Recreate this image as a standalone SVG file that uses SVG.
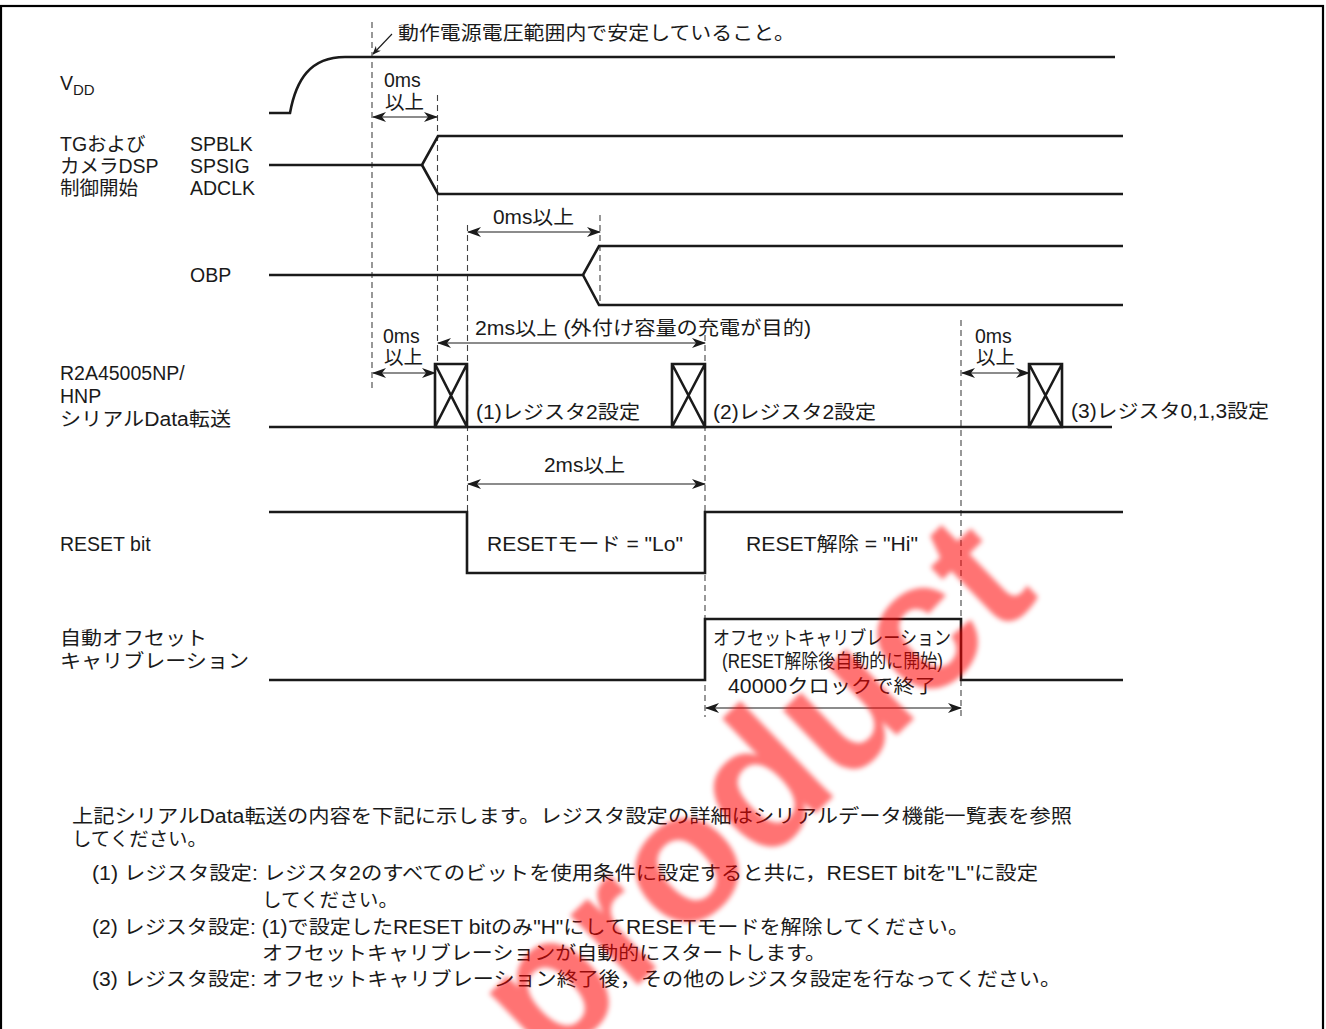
<svg xmlns="http://www.w3.org/2000/svg" width="1326" height="1029" viewBox="0 0 1326 1029">
<defs>
<style>
text{font-family:"Liberation Sans","Noto Sans CJK JP",sans-serif;font-size:19.5px;fill:#1a1a1a}
.sig{fill:none;stroke:#1a1a1a;stroke-width:2.6}
.dash{fill:none;stroke:#444;stroke-width:1.1;stroke-dasharray:6 4}
.dim{fill:none;stroke:#1a1a1a;stroke-width:1.2;marker-start:url(#ah);marker-end:url(#ah)}
.mid{text-anchor:middle}
</style>
<marker id="ah" viewBox="0 0 14 10" refX="13" refY="5" markerWidth="14" markerHeight="10" markerUnits="userSpaceOnUse" orient="auto-start-reverse">
<path d="M0,0 L14,5 L0,10 L4,5 Z" fill="#1a1a1a"/>
</marker>
<marker id="ah2" viewBox="0 0 10 8" refX="9" refY="4" markerWidth="9" markerHeight="7" markerUnits="userSpaceOnUse" orient="auto">
<path d="M0,0 L10,4 L0,8 L3,4 Z" fill="#1a1a1a"/>
</marker>
<filter id="soft" x="-10%" y="-10%" width="120%" height="120%"><feGaussianBlur stdDeviation="2.5"/></filter>
</defs>
<rect x="1" y="6" width="1322" height="1030" fill="#fff" stroke="#000" stroke-width="2.2"/>

<g id="connectors">
<line class="dash" x1="372" y1="22" x2="372" y2="392"/>
<line class="dash" x1="437.5" y1="95" x2="437.5" y2="362"/>
<line class="dash" x1="467.5" y1="225" x2="467.5" y2="512"/>
<line class="dash" x1="600" y1="215" x2="600" y2="305"/>
<line class="dash" x1="705" y1="335" x2="705" y2="717"/>
<line class="dash" x1="961" y1="320" x2="961" y2="717"/>
<line x1="392" y1="34" x2="373" y2="54" stroke="#1a1a1a" stroke-width="1.1" marker-end="url(#ah2)"/>
<line class="dim" x1="373" y1="117" x2="437" y2="117"/>
<line class="dim" x1="468" y1="232" x2="600" y2="232"/>
<line class="dim" x1="373" y1="373" x2="435" y2="373"/>
<line class="dim" x1="438" y1="343" x2="705" y2="343"/>
<line class="dim" x1="962" y1="373" x2="1029" y2="373"/>
<line class="dim" x1="468" y1="484" x2="705" y2="484"/>
<line class="dim" x1="706" y1="708" x2="961" y2="708"/>
</g>

<g id="vdd">
<text x="60" y="90">V<tspan font-size="15" dy="5">DD</tspan></text>
<path class="sig" d="M269,113 L290,113 C296,80 310,57 345,57 L1115,57"/>
<text x="398" y="40" textLength="397" lengthAdjust="spacingAndGlyphs">動作電源電圧範囲内で安定していること。</text>
<text x="384" y="87">0ms</text>
<text x="385" y="109">以上</text>
</g>

<g id="tg">
<text x="60" y="151">TGおよび</text>
<text x="60" y="173">カメラDSP</text>
<text x="60" y="195">制御開始</text>
<text x="190" y="151">SPBLK</text>
<text x="190" y="173">SPSIG</text>
<text x="190" y="195">ADCLK</text>
<path class="sig" d="M269,165 L422,165 L438,136 L1123,136"/>
<path class="sig" d="M422,165 L438,194 L1123,194"/>
</g>

<g id="obp">
<text x="190" y="282">OBP</text>
<path class="sig" d="M269,275 L583,275 L599,246 L1123,246"/>
<path class="sig" d="M583,275 L599,305 L1123,305"/>
<text x="493" y="224" textLength="81" lengthAdjust="spacingAndGlyphs">0ms以上</text>
</g>

<g id="serial">
<text x="60" y="380">R2A45005NP/</text>
<text x="60" y="403">HNP</text>
<text x="60" y="426" textLength="171" lengthAdjust="spacingAndGlyphs">シリアルData転送</text>
<path class="sig" d="M269,427 L1112,427"/>
<path class="sig" d="M435,364 H467 V427 H435 Z M435,364 L467,427 M467,364 L435,427"/>
<path class="sig" d="M672,364 H705 V427 H672 Z M672,364 L705,427 M705,364 L672,427"/>
<path class="sig" d="M1029,364 H1062 V427 H1029 Z M1029,364 L1062,427 M1062,364 L1029,427"/>
<text x="383" y="343">0ms</text>
<text x="384" y="364">以上</text>
<text x="975" y="343">0ms</text>
<text x="976" y="364">以上</text>
<text x="475" y="335" textLength="336" lengthAdjust="spacingAndGlyphs">2ms以上 (外付け容量の充電が目的)</text>
<text x="476" y="419" textLength="164" lengthAdjust="spacingAndGlyphs">(1)レジスタ2設定</text>
<text x="713" y="419" textLength="163" lengthAdjust="spacingAndGlyphs">(2)レジスタ2設定</text>
<text x="1071" y="418" textLength="198" lengthAdjust="spacingAndGlyphs">(3)レジスタ0,1,3設定</text>
</g>

<g id="reset">
<text x="60" y="551">RESET bit</text>
<path class="sig" d="M269,512 L467,512 L467,573 L705,573 L705,512 L1123,512"/>
<text x="544" y="472" textLength="81" lengthAdjust="spacingAndGlyphs">2ms以上</text>
<text x="487" y="551" textLength="196" lengthAdjust="spacingAndGlyphs">RESETモード = "Lo"</text>
<text x="746" y="551" textLength="172" lengthAdjust="spacingAndGlyphs">RESET解除 = "Hi"</text>
</g>

<g id="offset">
<text x="60" y="645" textLength="147" lengthAdjust="spacingAndGlyphs">自動オフセット</text>
<text x="60" y="668" textLength="189" lengthAdjust="spacingAndGlyphs">キャリブレーション</text>
<path class="sig" d="M269,680 L705,680 L705,619 L961,619 L961,680 L1123,680"/>
<text x="713" y="645" textLength="238" lengthAdjust="spacingAndGlyphs">オフセットキャリブレーション</text>
<text x="722" y="668" font-size="18" textLength="221" lengthAdjust="spacingAndGlyphs">(RESET解除後自動的に開始)</text>
<text x="728" y="693" textLength="208" lengthAdjust="spacingAndGlyphs">40000クロックで終了</text>
</g>

<g id="notes">
<text x="72" y="823" textLength="1000" lengthAdjust="spacingAndGlyphs">上記シリアルData転送の内容を下記に示します。レジスタ設定の詳細はシリアルデータ機能一覧表を参照</text>
<text x="72" y="846" textLength="135" lengthAdjust="spacingAndGlyphs">してください。</text>
<text x="92" y="880" textLength="946" lengthAdjust="spacingAndGlyphs">(1) レジスタ設定: レジスタ2のすべてのビットを使用条件に設定すると共に，RESET bitを"L"に設定</text>
<text x="262" y="907" textLength="136" lengthAdjust="spacingAndGlyphs">してください。</text>
<text x="92" y="934" textLength="877" lengthAdjust="spacingAndGlyphs">(2) レジスタ設定: (1)で設定したRESET bitのみ"H"にしてRESETモードを解除してください。</text>
<text x="262" y="960" textLength="564" lengthAdjust="spacingAndGlyphs">オフセットキャリブレーションが自動的にスタートします。</text>
<text x="92" y="986" textLength="969" lengthAdjust="spacingAndGlyphs">(3) レジスタ設定: オフセットキャリブレーション終了後，その他のレジスタ設定を行なってください。</text>
</g>

<g id="watermark" filter="url(#soft)">
<text transform="translate(548,1072) rotate(-44)" style="font-family:'Liberation Sans',sans-serif;font-size:184px;font-weight:bold;fill:#ff0000;fill-opacity:0.55">product</text>
</g>
</svg>
